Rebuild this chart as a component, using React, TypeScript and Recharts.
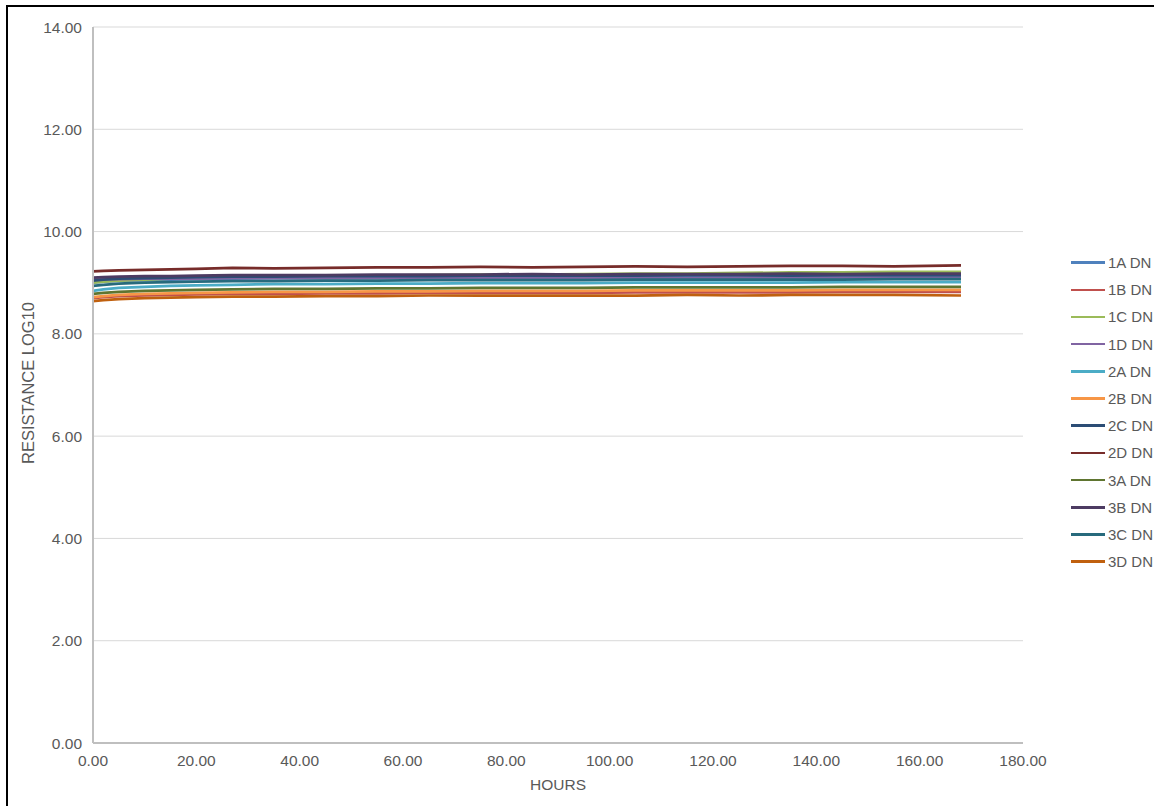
import React from 'react';
import { LineChart, Line, XAxis, YAxis, CartesianGrid } from 'recharts';

const HOURS = [0, 2, 5, 10, 15, 20, 27, 35, 45, 55, 65, 75, 85, 95, 105, 115, 125, 135, 145, 155, 168];

const S_1A = [9.0, 9.02, 9.04, 9.05, 9.06, 9.07, 9.08, 9.09, 9.09, 9.1, 9.1, 9.1, 9.11, 9.11, 9.11, 9.11, 9.12, 9.12, 9.12, 9.12, 9.12];
const S_1B = [8.7, 8.72, 8.74, 8.75, 8.76, 8.77, 8.78, 8.78, 8.79, 8.79, 8.8, 8.8, 8.8, 8.8, 8.81, 8.81, 8.81, 8.81, 8.82, 8.82, 8.82];
const S_1C = [9.0, 9.02, 9.04, 9.06, 9.08, 9.09, 9.11, 9.12, 9.13, 9.14, 9.15, 9.16, 9.16, 9.17, 9.18, 9.18, 9.19, 9.2, 9.2, 9.21, 9.21];
const S_1D = [9.06, 9.07, 9.07, 9.08, 9.08, 9.08, 9.09, 9.09, 9.09, 9.09, 9.1, 9.09, 9.1, 9.1, 9.1, 9.09, 9.1, 9.1, 9.1, 9.1, 9.1];
const S_2A = [8.84, 8.87, 8.9, 8.92, 8.94, 8.95, 8.96, 8.97, 8.97, 8.98, 8.98, 8.99, 8.99, 8.99, 9.0, 9.0, 9.0, 9.0, 9.01, 9.01, 9.01];
const S_2B = [8.72, 8.74, 8.76, 8.78, 8.79, 8.8, 8.81, 8.82, 8.82, 8.83, 8.83, 8.84, 8.84, 8.84, 8.85, 8.85, 8.85, 8.85, 8.86, 8.86, 8.86];
const S_2C = [9.04, 9.06, 9.08, 9.09, 9.1, 9.11, 9.12, 9.12, 9.13, 9.13, 9.13, 9.14, 9.14, 9.14, 9.14, 9.15, 9.15, 9.14, 9.15, 9.15, 9.15];
const S_2D = [9.22, 9.23, 9.24, 9.25, 9.26, 9.27, 9.29, 9.28, 9.29, 9.3, 9.3, 9.31, 9.3, 9.31, 9.32, 9.31, 9.32, 9.33, 9.33, 9.32, 9.34];
const S_3A = [8.78, 8.8, 8.82, 8.84, 8.85, 8.86, 8.87, 8.88, 8.88, 8.89, 8.89, 8.9, 8.9, 8.9, 8.91, 8.91, 8.91, 8.91, 8.92, 8.92, 8.92];
const S_3B = [9.1, 9.11, 9.12, 9.13, 9.13, 9.14, 9.15, 9.15, 9.15, 9.16, 9.16, 9.16, 9.17, 9.16, 9.17, 9.17, 9.17, 9.18, 9.17, 9.18, 9.18];
const S_3C = [8.94, 8.96, 8.98, 9.0, 9.01, 9.02, 9.03, 9.03, 9.04, 9.04, 9.05, 9.05, 9.05, 9.05, 9.06, 9.06, 9.06, 9.06, 9.06, 9.07, 9.07];
const S_3D = [8.64, 8.66, 8.68, 8.7, 8.71, 8.72, 8.73, 8.73, 8.74, 8.74, 8.75, 8.75, 8.75, 8.75, 8.75, 8.76, 8.75, 8.76, 8.76, 8.76, 8.75];

const SERIES_NAMES = ['1A DN', '1B DN', '1C DN', '1D DN', '2A DN', '2B DN', '2C DN', '2D DN', '3A DN', '3B DN', '3C DN', '3D DN'];
const SERIES_VALUES = [S_1A, S_1B, S_1C, S_1D, S_2A, S_2B, S_2C, S_2D, S_3A, S_3B, S_3C, S_3D];
const COLORS = ['#4F81BD', '#C0504D', '#9BBB59', '#8064A2', '#4BACC6', '#F79646', '#2C4D75', '#772C2A', '#5F7530', '#4D3B62', '#276A7C', '#C0600E'];

const X_TICKS = [0, 20, 40, 60, 80, 100, 120, 140, 160, 180];
const Y_TICKS = [0, 2, 4, 6, 8, 10, 12, 14];

const data = HOURS.map((h, i) => {
    const row: Record<string, number> = { hours: h };
    SERIES_NAMES.forEach((name, s) => {
        row[name] = SERIES_VALUES[s][i];
    });
    return row;
});

const FONT = '"Liberation Sans", Arial, sans-serif';
const TEXT = '#595959';

export default function App() {
    return (
        <div style={{ position: 'absolute', left: 0, top: 0, width: 1154, height: 806, overflow: 'hidden', background: '#fff', fontFamily: FONT }}>
            <div style={{ position: 'absolute', left: 6, top: 5, width: 1200, height: 850, borderLeft: '2px solid #000', borderTop: '2px solid #000' }} />
            <LineChart
                width={1154}
                height={806}
                data={data}
                margin={{ top: 27, right: 131, bottom: 0, left: 0 }}
                style={{ position: 'absolute', left: 0, top: 0 }}
            >
                <CartesianGrid vertical={false} stroke="#D9D9D9" strokeWidth={1} />
                <XAxis
                    dataKey="hours"
                    type="number"
                    domain={[0, 180]}
                    ticks={X_TICKS}
                    tickFormatter={(v: number) => v.toFixed(2)}
                    height={63}
                    tickLine={false}
                    tickMargin={6}
                    axisLine={{ stroke: '#BFBFBF', strokeWidth: 2 }}
                    tick={{ fill: TEXT, fontSize: 15.5, fontFamily: FONT }}
                    interval={0}
                    label={{ value: 'HOURS', position: 'insideBottom', offset: 16, fill: TEXT, fontSize: 15.5, fontFamily: FONT }}
                />
                <YAxis
                    type="number"
                    domain={[0, 14]}
                    ticks={Y_TICKS}
                    tickFormatter={(v: number) => v.toFixed(2)}
                    width={93}
                    tickLine={false}
                    tickMargin={5}
                    axisLine={{ stroke: '#BFBFBF', strokeWidth: 2 }}
                    tick={{ fill: TEXT, fontSize: 15.5, fontFamily: FONT }}
                    interval={0}
                    label={{
                        content: (props: any) => {
                            const vb = props.viewBox || { y: 27, height: 716 };
                            const cy = vb.y + vb.height / 2 - 2;
                            return (
                                <text
                                    x={28}
                                    y={cy}
                                    transform={`rotate(-90, 28, ${cy})`}
                                    textAnchor="middle"
                                    dominantBaseline="central"
                                    fill={TEXT}
                                    fontSize={16.5}
                                    fontFamily={FONT}
                                >
                                    RESISTANCE LOG10
                                </text>
                            );
                        },
                    }}
                />
                {SERIES_NAMES.map((name, i) => (
                    <Line
                        key={name}
                        type="linear"
                        dataKey={name}
                        stroke={COLORS[i]}
                        strokeWidth={2.75}
                        dot={false}
                        isAnimationActive={false}
                    />
                ))}
            </LineChart>
            <div style={{ position: 'absolute', left: 1071, top: 249 }}>
                {SERIES_NAMES.map((name, i) => (
                    <div key={name} style={{ display: 'flex', alignItems: 'center', height: 27.2, whiteSpace: 'nowrap' }}>
                        <div style={{ width: 34, height: 2.5, background: COLORS[i], marginRight: 3 }} />
                        <span style={{ color: TEXT, fontSize: 15, fontFamily: FONT }}>{name}</span>
                    </div>
                ))}
            </div>
        </div>
    );
}
